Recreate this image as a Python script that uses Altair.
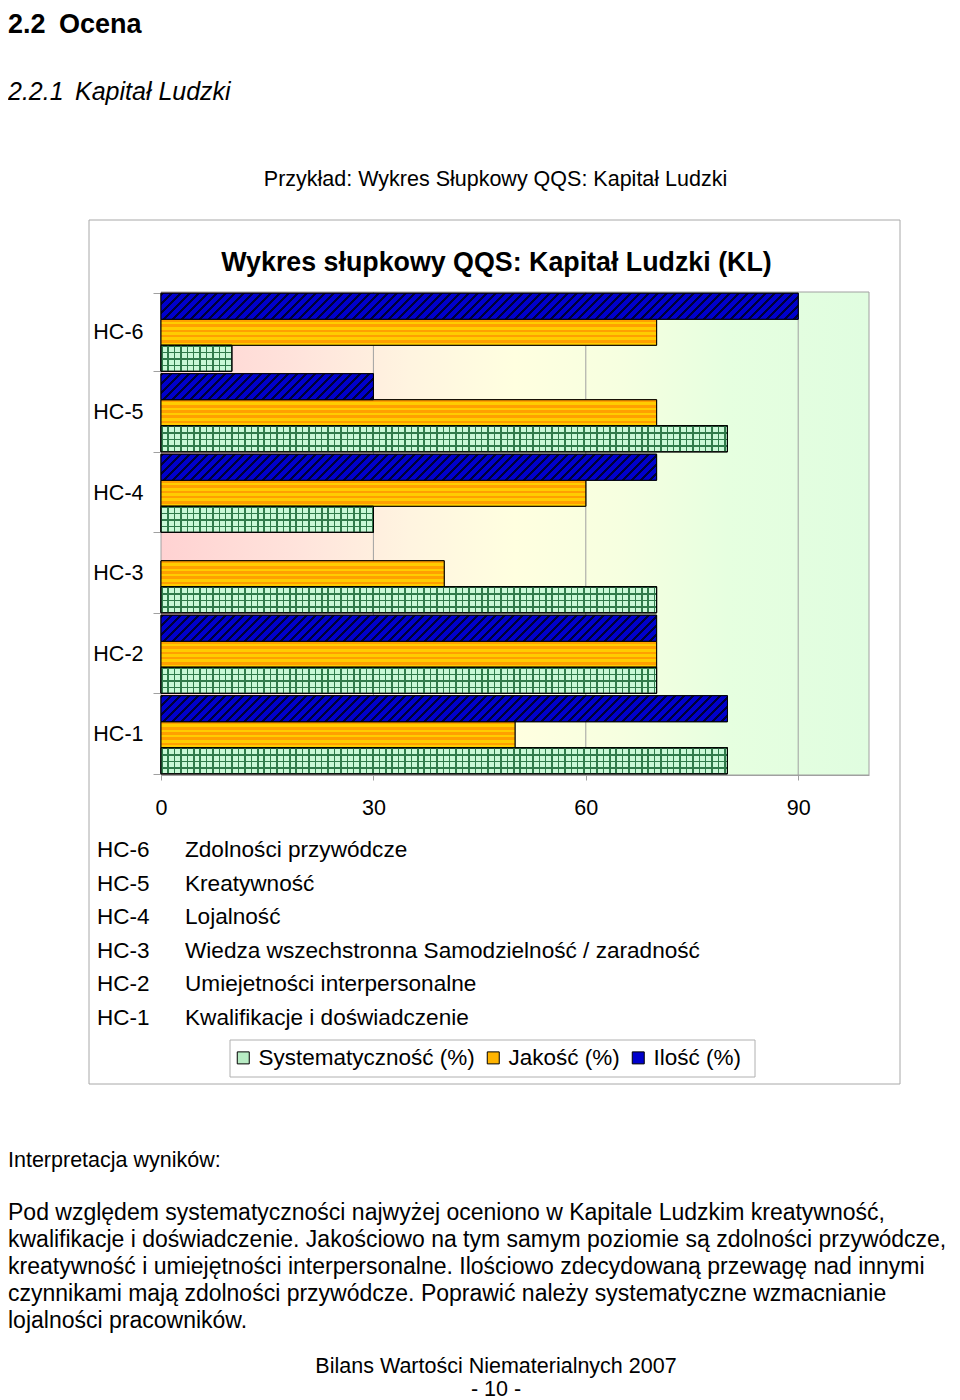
import math
import altair as alt
import pandas as pd

# ---------------- data ----------------
codes = ["HC-6", "HC-5", "HC-4", "HC-3", "HC-2", "HC-1"]
descriptions = [
    "Zdolności przywódcze",
    "Kreatywność",
    "Lojalność",
    "Wiedza wszechstronna Samodzielność / zaradność",
    "Umiejetności interpersonalne",
    "Kwalifikacje i doświadczenie",
]
series = ["Systematyczność (%)", "Jakość (%)", "Ilość (%)"]
series_keys = ["S", "J", "I"]
systematycznosc = [10, 80, 30, 70, 70, 80]
jakosc = [70, 70, 60, 40, 70, 50]
ilosc = [90, 30, 70, 0, 70, 80]
x_ticks = [0, 30, 60, 90]

heading_num = "2.2"
heading = "Ocena"
subheading_num = "2.2.1"
subheading = "Kapitał Ludzki"
caption = "Przykład: Wykres Słupkowy QQS: Kapitał Ludzki"
chart_title = "Wykres słupkowy QQS: Kapitał Ludzki (KL)"
interp_title = "Interpretacja wyników:"
paragraph_lines = [
    "Pod względem systematyczności najwyżej oceniono w Kapitale Ludzkim kreatywność,",
    "kwalifikacje i doświadczenie. Jakościowo na tym samym poziomie są zdolności przywódcze,",
    "kreatywność i umiejętności interpersonalne. Ilościowo zdecydowaną przewagę nad innymi",
    "czynnikami mają zdolności przywódcze. Poprawić należy systematyczne wzmacnianie",
    "lojalności pracowników.",
]
footer_lines = ["Bilans Wartości Niematerialnych 2007", "- 10 -"]

# ---------------- layout ----------------
FONT = "Liberation Sans"
W, H = 708, 483             # plot area
OX, OY = 161, 292           # plot origin on the page
M = 8                       # page margin
TOTAL_W, TOTAL_H = 944, 1392
PAD = {"left": OX - M, "top": OY - M,
       "right": TOTAL_W - (OX - M) - W, "bottom": TOTAL_H - (OY - M) - H}
XMAX = 100
P_INNER, P_OUTER = 0.03, 0.015


def rx(px):
    return px - OX


def ry(py):
    return py - OY


step = H / (len(codes) - P_INNER + 2 * P_OUTER)
bar_h = step * (1 - P_INNER) / 3


def stripe_stops(total, period, line, c_line, c_bg):
    stops = []
    k = 0
    while k * period < total:
        a = k * period / total
        b = min((k * period + line) / total, 1.0)
        c = min((k + 1) * period / total, 1.0)
        stops += [(a, c_line), (b, c_line), (b, c_bg), (c, c_bg)]
        k += 1
    return [alt.GradientStop(offset=round(o, 5), color=col) for o, col in stops]


BLUE, HATCH = "#0000cc", "#000038"
ORANGE, YELLOW = "#ffa000", "#ffcc00"
MINT, GRIDG = "#c8f8d6", "#2f7a4a"
GRAY = "#a0a0a0"

rows = []
for i, c in enumerate(codes):
    for s, k, vals in zip(series, series_keys, [systematycznosc, jakosc, ilosc]):
        rows.append({"code": c, "series": s, "key": k, "value": vals[i]})
df = pd.DataFrame(rows)
one = pd.DataFrame({"k": [0]})
grid_df = pd.DataFrame({"value": [t for t in x_ticks if t > 0]})

x_enc = alt.X(
    "value:Q",
    scale=alt.Scale(domain=[0, XMAX], nice=False),
    axis=alt.Axis(values=x_ticks, title=None, grid=False, labelFlush=False,
                  domainColor=GRAY, tickColor=GRAY, tickSize=5,
                  labelPadding=17, labelFontSize=21.5, labelColor="black",
                  labelFont=FONT, format="d"),
)
y_enc = alt.Y(
    "code:N",
    scale=alt.Scale(domain=codes, paddingInner=P_INNER, paddingOuter=P_OUTER),
    axis=alt.Axis(title=None, tickBand="extent", tickSize=8, labelPadding=10,
                  domainColor=GRAY, tickColor=GRAY,
                  labelFontSize=21.5, labelColor="black", labelFont=FONT),
)
yoff_enc = alt.YOffset(
    "series:N",
    scale=alt.Scale(domain=["Ilość (%)", "Jakość (%)", "Systematyczność (%)"],
                    paddingInner=0, paddingOuter=0),
)

# plot background (gradient) and gridlines
bg = alt.Chart(one).mark_rect(
    fill=alt.LinearGradient(
        gradient="linear", x1=0, y1=0, x2=1, y2=0,
        stops=[
            alt.GradientStop(offset=0.0, color="#ffd2d2"),
            alt.GradientStop(offset=0.2, color="#ffe4dc"),
            alt.GradientStop(offset=0.35, color="#fff4e0"),
            alt.GradientStop(offset=0.5, color="#ffffe0"),
            alt.GradientStop(offset=0.65, color="#f6ffe0"),
            alt.GradientStop(offset=0.8, color="#e6ffe0"),
            alt.GradientStop(offset=1.0, color="#e0fde0"),
        ],
    ),
    stroke=GRAY, strokeWidth=1,
).encode(x=alt.value(0), x2=alt.value(W), y=alt.value(0), y2=alt.value(H))

grid = alt.Chart(grid_df).mark_rule(color=GRAY, strokeWidth=1).encode(
    x=x_enc, y=alt.value(0), y2=alt.value(H)
)

base = alt.Chart(df).transform_filter("datum.value > 0").mark_bar(
    stroke="black", strokeWidth=1
).encode(
    x=x_enc, y=y_enc, yOffset=yoff_enc,
    color=alt.Color(
        "series:N",
        scale=alt.Scale(domain=series, range=["#b8ecc4", "#ffb400", BLUE]),
        legend=alt.Legend(
            title=None, orient="none", legendX=71, legendY=754.5,
            direction="horizontal", columns=3, symbolType="square",
            symbolSize=144, symbolStrokeColor="black", symbolStrokeWidth=1,
            labelFontSize=22.5, labelFont=FONT, labelColor="black",
            labelOffset=4, columnPadding=7, padding=0,
            labelLimit=400,
        ),
    ),
)


def pattern_layer(filter_expr, grad):
    return alt.Chart(df).transform_filter(filter_expr).mark_bar(
        fill=grad, stroke="black", strokeWidth=1
    ).encode(x=x_enc, y=y_enc, yOffset=yoff_enc)


layers = [base]

# Jakość: horizontal stripes
grad_j = alt.LinearGradient(gradient="linear", x1=0, y1=0, x2=0, y2=1,
                            stops=stripe_stops(bar_h, bar_h / 5, bar_h / 10, ORANGE, YELLOW))
layers.append(pattern_layer("datum.key == 'J' && datum.value > 0", grad_j))

# Systematyczność: grid (horizontal lines + vertical lines)
grad_sh = alt.LinearGradient(gradient="linear", x1=0, y1=0, x2=0, y2=1,
                             stops=stripe_stops(bar_h, bar_h / 4, 1.5, GRIDG, MINT))
layers.append(pattern_layer("datum.key == 'S' && datum.value > 0", grad_sh))
for v in sorted(set(systematycznosc)):
    if v <= 0:
        continue
    wpx = v / XMAX * W
    g = alt.LinearGradient(gradient="linear", x1=0, y1=0, x2=1, y2=0,
                           stops=stripe_stops(wpx, 6.4, 1.5, GRIDG, "rgba(0,0,0,0)"))
    layers.append(pattern_layer(f"datum.key == 'S' && datum.value == {v}", g))

# Ilość: diagonal hatch
for v in sorted(set(ilosc)):
    if v <= 0:
        continue
    wpx = v / XMAX * W
    L = (wpx ** 2 + bar_h ** 2) / (wpx + bar_h)
    g = alt.LinearGradient(gradient="linear", x1=0, y1=0, x2=wpx / L, y2=bar_h / L,
                           stops=stripe_stops(wpx + bar_h, 9.0, 3.0, HATCH, BLUE))
    layers.append(pattern_layer(f"datum.key == 'I' && datum.value == {v}", g))


def txt(text, x, y, size, align="left", weight="normal", style="normal", lh=None):
    props = dict(text=text, align=align, baseline="alphabetic", fontSize=size,
                 font=FONT, fontWeight=weight, fontStyle=style, color="black")
    if lh is not None:
        props["lineHeight"] = lh
    return alt.Chart(one).mark_text(**props).encode(x=alt.value(rx(x)), y=alt.value(ry(y)))


def frame(x0, x1, y0, y1, color):
    return alt.Chart(one).mark_rect(fill="transparent", stroke=color, strokeWidth=1).encode(
        x=alt.value(rx(x0)), x2=alt.value(rx(x1)), y=alt.value(ry(y0)), y2=alt.value(ry(y1))
    )


box = frame(89, 900, 220, 1084, "#a8a8a8")
legend_box = frame(230, 755, 1040, 1077, "#b0b0b0")

texts = [
    txt(heading_num, 8, 32.5, 27, weight="bold"),
    txt(heading, 59, 32.5, 27, weight="bold"),
    txt(subheading_num, 8, 100, 25, style="italic"),
    txt(subheading, 75, 100, 25, style="italic"),
    txt(caption, 495.5, 186, 21.5, align="center"),
    txt(chart_title, 496.5, 271, 26.8, align="center", weight="bold"),
    txt(codes, 97, 857, 22.5, lh=33.6),
    txt(descriptions, 185, 857, 22.6, lh=33.6),
    txt(interp_title, 8, 1167, 21.5),
    txt(paragraph_lines, 8, 1220, 23.0, lh=27),
    txt(footer_lines[0], 496, 1373, 21.5, align="center"),
    txt(footer_lines[1], 496, 1396, 21.5, align="center"),
]

chart = alt.layer(box, legend_box, bg, grid, *layers, *texts).properties(
    width=W, height=H,
    autosize=alt.AutoSizeParams(type="none"),
    padding=PAD,
    background="white",
).configure(font=FONT).configure_view(stroke=None)

chart.save("out.html", embed_options={"renderer": "svg", "actions": False})
